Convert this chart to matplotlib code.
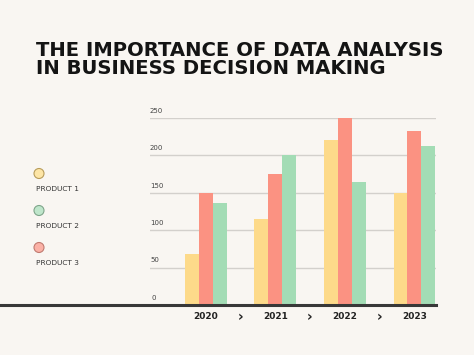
import numpy as np
import matplotlib.pyplot as plt
import matplotlib.transforms as mtransforms
from matplotlib.patches import Circle

# --- data ---
years = ["2020", "2021", "2022", "2023"]
product_1 = [68, 115, 220, 150]
product_2 = [137, 200, 165, 213]
product_3 = [150, 175, 250, 233]
y_ticks = [0, 50, 100, 150, 200, 250]
legend_labels = ["PRODUCT 1", "PRODUCT 2", "PRODUCT 3"]

title = "THE IMPORTANCE OF DATA ANALYSIS\nIN BUSINESS DECISION MAKING"

bg = "#f9f6f2"
c_yellow = "#fdda8a"
c_red = "#fb9282"
c_green = "#a3dcb5"

W, H = 474, 355
fig = plt.figure(figsize=(W / 100, H / 100), dpi=100, facecolor=bg)

# axes placed in pixel terms
left, right, bottom, top = 150, 436, 305, 118
ax = fig.add_axes([left / W, (H - bottom) / H, (right - left) / W, (bottom - top) / H])
ax.set_facecolor(bg)

x = np.arange(len(years))
w = 0.2
ax.bar(x - w, product_1, w, color=c_yellow, zorder=3)
ax.bar(x, product_3, w, color=c_red, zorder=3)
ax.bar(x + w, product_2, w, color=c_green, zorder=3)

ax.set_xlim(-0.80, 3.31)
ax.set_ylim(0, 250)

for s in ax.spines.values():
    s.set_visible(False)

# grid lines + labels sitting on top of them
for t in y_ticks[1:]:
    ax.axhline(t, color="#d3d0cc", lw=1, zorder=1)
off = mtransforms.offset_copy(ax.get_yaxis_transform(), fig=fig, x=0, y=7.3 * 0.72, units="points")
for t in y_ticks:
    ax.text(0.0 if t else 0.005, t, str(t), transform=off, ha="left", va="center",
            fontsize=5, color="#444444")
ax.set_yticks([])

# heavy baseline running to the left edge
ax.axhline(0, xmin=-left / (right - left), xmax=1, color="#383838", lw=2.2,
           clip_on=False, zorder=4)

ax.set_xticks(x)
ax.set_xticklabels(years, fontsize=6.5, fontweight="bold", color="#222222")
ax.tick_params(axis="x", length=0, pad=5)
for i in range(len(years) - 1):
    ax.text(i + 0.5, -16, "›", ha="center", va="center", fontsize=10,
            fontweight="bold", color="#222222", clip_on=False)

# title
fig.text(36 / W, 1 - 40.5 / H, title, ha="left", va="top", fontsize=14.1,
         fontweight="bold", color="#141414", linespacing=0.98)

# legend
fills = ["#fde5a6", "#bfe6cb", "#fbb1a6"]
edges = ["#b89c5a", "#7fa58a", "#c07a70"]
for i, (lab, fc, ec) in enumerate(zip(legend_labels, fills, edges)):
    cy = 173.5 + i * 37
    circ = Circle((39, H - cy), 5, transform=None, facecolor=fc,
                  edgecolor=ec, lw=0.8)
    fig.patches.append(circ)
    fig.text(36 / W, 1 - (cy + 15.5) / H, lab, ha="left", va="center",
             fontsize=5.3, color="#333333")

fig.savefig("out.png", dpi=100, facecolor=bg)
